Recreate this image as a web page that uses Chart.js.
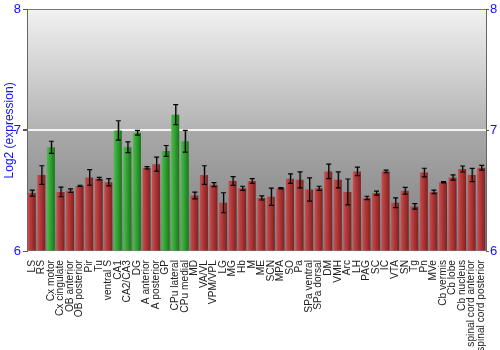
<!DOCTYPE html>
<html>
<head>
<meta charset="utf-8">
<script src="https://cdn.jsdelivr.net/npm/chart.js@4/dist/chart.umd.min.js"></script>
<style>
html,body{margin:0;padding:0;background:#fff;}
#wrap{width:500px;height:350px;}
</style>
</head>
<body>
<div id="wrap"><canvas id="c" width="500" height="350"></canvas></div>
<script>
const categories = ["LS","RS","Cx motor","Cx cingulate","OB anterior","OB posterior","Pir","Tu","ventral S","CA1","CA2/CA3","DG","A anterior","A posterior","GP","CPu lateral","CPu medial","MD","VA/VL","VPM/VPL","LG","MG","Hb","M","ME","SCN","MPA","SO","Pa","SPa ventral","SPa dorsal","DM","VMH","Arc","LH","PAG","SC","IC","VTA","SN","Tg","Pn","MVe","Cb vermis","Cb lobe","Cb nucleus","spinal cord anterior","spinal cord posterior"];
const expression = [6.48,6.63,6.86,6.49,6.50,6.54,6.61,6.60,6.57,7.00,6.86,6.98,6.69,6.72,6.83,7.13,6.91,6.46,6.63,6.55,6.40,6.58,6.52,6.58,6.44,6.45,6.52,6.60,6.59,6.51,6.52,6.66,6.59,6.49,6.66,6.44,6.48,6.66,6.40,6.50,6.37,6.65,6.49,6.57,6.61,6.68,6.63,6.69];
const errors = [0.025,0.077,0.05,0.04,0.015,0.005,0.065,0.01,0.03,0.08,0.045,0.02,0.01,0.058,0.045,0.083,0.09,0.028,0.077,0.017,0.083,0.036,0.017,0.02,0.017,0.072,0.005,0.039,0.066,0.096,0.017,0.06,0.066,0.107,0.036,0.014,0.017,0.011,0.041,0.028,0.022,0.036,0.014,0.005,0.022,0.025,0.055,0.02];
const highlighted = [false,false,true,false,false,false,false,false,false,true,true,true,false,false,true,true,true,false,false,false,false,false,false,false,false,false,false,false,false,false,false,false,false,false,false,false,false,false,false,false,false,false,false,false,false,false,false,false];
const yTicks = [6,7,8];

const BAR_FRAC = 0.84;
function barGradient(c){
  const chart = c.chart;
  const xs = chart.scales && chart.scales.x;
  const green = highlighted[c.dataIndex];
  if(!xs || !chart.chartArea) return green ? '#34a534' : '#b03636';
  const x = xs.getPixelForValue(c.dataIndex);
  const w = xs.width / categories.length * BAR_FRAC;
  const g = chart.ctx.createLinearGradient(x - w/2, 0, x + w/2, 0);
  if(green){
    g.addColorStop(0,'#4cbc4c'); g.addColorStop(0.35,'#36a836'); g.addColorStop(1,'#1c741c');
  } else {
    g.addColorStop(0,'#c65050'); g.addColorStop(0.35,'#b53a3a'); g.addColorStop(1,'#7c2222');
  }
  return g;
}

const bgPlugin = {
  id:'bgBands',
  beforeDraw(chart){
    const {ctx, chartArea:a, scales:{y}} = chart;
    const y7 = y.getPixelForValue(7);
    ctx.save();
    let g1 = ctx.createLinearGradient(0,a.top,0,y7);
    g1.addColorStop(0,'#f1f1f1'); g1.addColorStop(1,'#b2b2b2');
    ctx.fillStyle = g1; ctx.fillRect(a.left,a.top,a.right-a.left,y7-a.top);
    let g2 = ctx.createLinearGradient(0,y7,0,a.bottom);
    g2.addColorStop(0,'#a9a9a9'); g2.addColorStop(1,'#7e7e7e');
    ctx.fillStyle = g2; ctx.fillRect(a.left,y7,a.right-a.left,a.bottom-y7);
    ctx.restore();
  }
};

const errPlugin = {
  id:'errBars',
  afterDatasetsDraw(chart){
    const {ctx, scales:{x,y}} = chart;
    ctx.save();
    expression.forEach((v,i)=>{
      const px = x.getPixelForValue(i);
      const yTop = y.getPixelForValue(v + errors[i]);
      const yBot = y.getPixelForValue(v - errors[i]);
      ctx.strokeStyle = 'rgba(90,90,90,0.6)';
      ctx.lineWidth = 1;
      ctx.beginPath();
      ctx.moveTo(px+1.5, yTop+0.5); ctx.lineTo(px+1.5, yBot+0.5);
      ctx.stroke();
      ctx.strokeStyle = '#000';
      ctx.lineWidth = 1.2;
      ctx.beginPath();
      ctx.moveTo(px+0.5, yTop); ctx.lineTo(px+0.5, yBot);
      ctx.moveTo(px-2, yTop); ctx.lineTo(px+3, yTop);
      ctx.moveTo(px-2, yBot); ctx.lineTo(px+3, yBot);
      ctx.stroke();
    });
    ctx.restore();
  }
};

Chart.defaults.font.family = '"Liberation Sans", Arial, sans-serif';

new Chart(document.getElementById('c'), {
  type:'bar',
  data:{
    labels: categories,
    datasets:[{
      data: expression,
      backgroundColor: barGradient,
      borderWidth: 0,
      categoryPercentage: 1,
      barPercentage: BAR_FRAC,
      base: 6
    }]
  },
  options:{
    responsive:false,
    animation:false,
    devicePixelRatio:1,
    layout:{padding:{top:9,left:0,right:0,bottom:0}},
    plugins:{legend:{display:false}, tooltip:{enabled:false}},
    scales:{
      x:{
        grid:{display:false},
        border:{display:false},
        ticks:{
          autoSkip:false, maxRotation:90, minRotation:90, padding:1,
          color:'#222', font:{size:10.2}
        },
        afterFit(s){ s.height = 99; }
      },
      y:{
        position:'left',
        min:6, max:8,
        afterBuildTicks(s){ s.ticks = yTicks.map(v=>({value:v})); },
        ticks:{color:'#1010ff', font:{size:13}, padding:2},
        grid:{
          tickLength:4,
          tickColor:'#555',
          color:(c)=> c.tick && c.tick.value===7 ? 'rgba(250,250,250,0.9)' : (c.tick && c.tick.value===8 ? '#7a7a7a' : 'rgba(0,0,0,0)'),
          lineWidth:(c)=> c.tick && c.tick.value===7 ? 2 : 1
        },
        border:{display:true,color:'#666'},
        title:{display:true,text:'Log2 (expression)',color:'#1010ff',font:{size:12},padding:{top:2,bottom:0}},
        afterFit(s){ s.width = 27; }
      },
      y2:{
        position:'right',
        min:6, max:8,
        afterBuildTicks(s){ s.ticks = yTicks.map(v=>({value:v})); },
        ticks:{color:'#1010ff', font:{size:13}, padding:1},
        grid:{drawOnChartArea:false, tickLength:3, tickColor:'#555'},
        border:{display:true,color:'#666'},
        afterFit(s){ s.width = 14; }
      }
    }
  },
  plugins:[bgPlugin, errPlugin]
});
</script>
</body>
</html>
